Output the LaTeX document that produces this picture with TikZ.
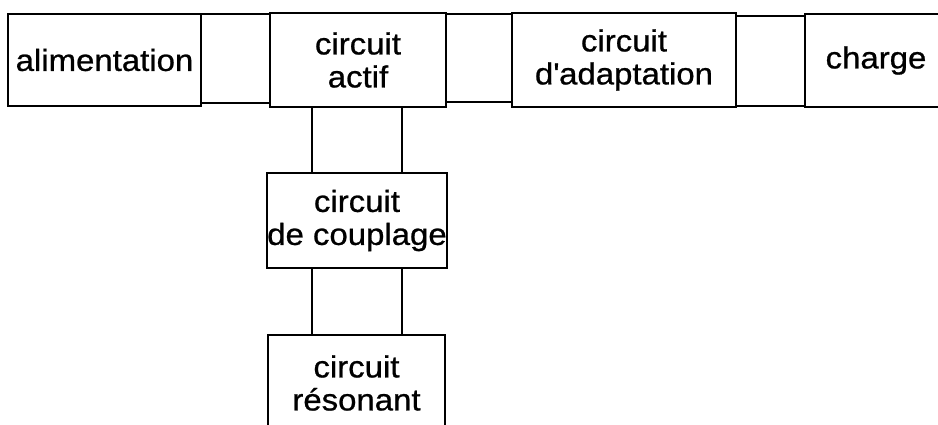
\documentclass[tikz,border=0pt]{standalone}
\usepackage{fontspec}
\setmainfont{Liberation Sans}[FakeStretch=1.08, FakeBold=0.8]
\begin{document}
\begin{tikzpicture}[x=1pt,y=-1pt,
  blk/.style={draw, line width=2.3pt, align=center, inner sep=0pt,
    font=\fontsize{30.5}{33}\selectfont},
  wire/.style={line width=2.3pt}]
\useasboundingbox (0,0) rectangle (938,424);
\clip (0,0) rectangle (938,424);
% main chain
\node[blk, minimum width=193pt, minimum height=92pt] (ali) at (104.5,60) {alimentation};
\node[blk, minimum width=176pt, minimum height=94pt] (act) at (358,60) {circuit\\actif};
\node[blk, minimum width=224pt, minimum height=94pt] (adp) at (624,60) {circuit\\d\textquotesingle adaptation};
\node[blk, minimum width=142pt, minimum height=93pt] (chg) at (876,60.5) {charge};
% branch below the active circuit
\node[blk, minimum width=178pt, minimum height=95pt] (cpl) at (357,220.5) {circuit\\de couplage};
\node[blk, minimum width=177pt, minimum height=96pt] (res) at (356.5,383) {circuit\\résonant};
% horizontal links, each a pair of parallel wires
\draw[wire] ([yshift=-1pt]ali.north east) -- ([yshift=-1pt]ali.north east -| act.west);
\draw[wire] ([yshift=4pt]ali.south east) -- ([yshift=4pt]ali.south east -| act.west);
\draw[wire] ([yshift=-2pt]act.north east) -- ([yshift=-2pt]act.north east -| adp.west);
\draw[wire] ([yshift=6pt]act.south east) -- ([yshift=6pt]act.south east -| adp.west);
\draw[wire] ([yshift=-4pt]adp.north east) -- ([yshift=-4pt]adp.north east -| chg.west);
\draw[wire] ([yshift=2pt]adp.south east) -- ([yshift=2pt]adp.south east -| chg.west);
% vertical links
\draw[wire] ([xshift=-46pt]act.south) -- ([xshift=-46pt]act.south |- cpl.north);
\draw[wire] ([xshift=44pt]act.south) -- ([xshift=44pt]act.south |- cpl.north);
\draw[wire] ([xshift=-46pt]act.south |- cpl.south) -- ([xshift=-46pt]act.south |- res.north);
\draw[wire] ([xshift=44pt]act.south |- cpl.south) -- ([xshift=44pt]act.south |- res.north);
\end{tikzpicture}
\end{document}
